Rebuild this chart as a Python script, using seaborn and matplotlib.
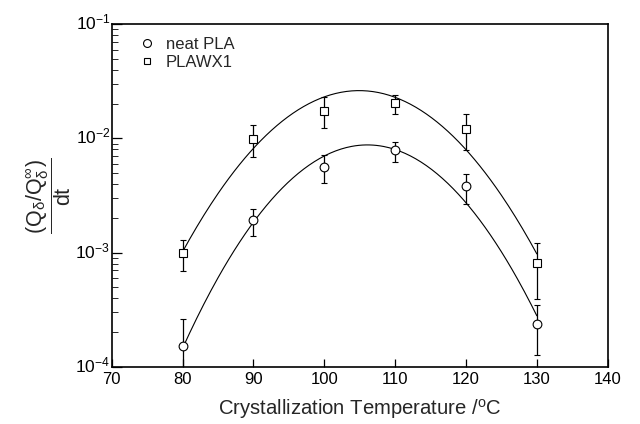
import numpy as np
import pandas as pd
import matplotlib
matplotlib.use("Agg")
import matplotlib.pyplot as plt
import matplotlib.transforms as mtransforms
from matplotlib.lines import Line2D
import seaborn as sns
from matplotlib.ticker import LogLocator, LogFormatterSciNotation, NullFormatter

# ---- data ----
temps = [80, 90, 100, 110, 120, 130]
neat_vals = [1.52e-4, 1.91e-3, 5.6e-3, 7.83e-3, 3.80e-3, 2.36e-4]
neat_hi = [2.61e-4, 2.42e-3, 7.08e-3, 9.26e-3, 4.89e-3, 3.44e-4]
neat_lo = [0.45e-4, 1.39e-3, 4.05e-3, 6.22e-3, 2.67e-3, 1.26e-4]
wx_vals = [9.95e-4, 9.9e-3, 1.75e-2, 2.02e-2, 1.20e-2, 8.13e-4]
wx_hi = [1.29e-3, 1.30e-2, 2.28e-2, 2.40e-2, 1.62e-2, 1.22e-3]
wx_lo = [6.92e-4, 6.84e-3, 1.24e-2, 1.62e-2, 7.83e-3, 3.94e-4]
series_names = ["neat PLA", "PLAWX1"]
x_ticks = [70, 80, 90, 100, 110, 120, 130, 140]

sns.set_theme(style="ticks")
plt.rcParams["font.family"] = ["Liberation Sans", "DejaVu Sans"]
plt.rcParams["mathtext.fontset"] = "custom"
plt.rcParams["mathtext.rm"] = "Liberation Sans"
plt.rcParams["mathtext.it"] = "Liberation Sans"
plt.rcParams["mathtext.sf"] = "Liberation Sans"
plt.rcParams["mathtext.bf"] = "Liberation Sans:bold"

fig = plt.figure(figsize=(6.4, 4.24), dpi=100)
ax = fig.add_axes([0.1745, 0.135, 0.775, 0.808])

# quadratic fits in log space (regression of the data)
rows = []
tt = np.linspace(80, 130, 200)
for name, vals in zip(series_names, [neat_vals, wx_vals]):
    coef = np.polyfit(temps, np.log10(vals), 2)
    fit = 10 ** np.polyval(coef, tt)
    rows.append(pd.DataFrame({"T": tt, "rate": fit, "series": name}))
fit_df = pd.concat(rows)
sns.lineplot(data=fit_df, x="T", y="rate", units="series", estimator=None,
             color="black", lw=0.8, ax=ax, legend=False)

handles = []
for name, vals, lo, hi, mk, ms in [
    ("neat PLA", neat_vals, neat_lo, neat_hi, "o", 6.3),
    ("PLAWX1", wx_vals, wx_lo, wx_hi, "s", 5.3),
]:
    v = np.array(vals)
    yerr = np.vstack([v - np.array(lo), np.array(hi) - v])
    ax.errorbar(temps, v, yerr=yerr, fmt=mk, ms=ms, mfc="white", mec="black",
                mew=0.8, ecolor="black", elinewidth=0.9, capsize=2.5,
                capthick=0.9, zorder=3)
    handles.append(Line2D([], [], ls="none", marker=mk, ms=ms - 0.6, mfc="white",
                          mec="black", mew=0.8, label=name))

ax.set_yscale("log")
ax.set_ylim(1e-4, 1e-1)
ax.set_xlim(70, 140)
ax.set_xticks(x_ticks)
ax.yaxis.set_major_locator(LogLocator(base=10, numticks=10))
ax.yaxis.set_minor_locator(LogLocator(base=10, subs=np.arange(2, 10), numticks=10))
ax.yaxis.set_major_formatter(LogFormatterSciNotation())
ax.yaxis.set_minor_formatter(NullFormatter())

ax.tick_params(axis="both", which="major", direction="in", length=7, width=0.9,
               labelsize=12.5, colors="black", top=False, right=False)
ax.tick_params(axis="y", which="minor", direction="in", length=4.5, width=0.7,
               left=True, right=False)
ax.tick_params(axis="x", which="minor", bottom=False, top=False)
ax.tick_params(axis="x", which="major", length=6, pad=4, labelsize=12)
ax.tick_params(axis="y", pad=1)

# shift y tick labels up so the "10" is centred on the tick
offset = mtransforms.ScaledTranslation(0, 3 / 100, fig.dpi_scale_trans)
for lab in ax.yaxis.get_majorticklabels():
    lab.set_transform(lab.get_transform() + offset)

for s in ax.spines.values():
    s.set_visible(True)
    s.set_linewidth(1.2)
    s.set_color("black")

ax.set_xlabel(r"Crystallization Temperature /$^{\mathrm{o}}$C", fontsize=14.6, labelpad=7)
ax.set_ylabel(r"$\dfrac{(\mathrm{Q}_{\delta}/\mathrm{Q}_{\delta}^{\infty})}{\mathrm{dt}}$",
              fontsize=15.5, labelpad=2)

ax.legend(handles=handles, loc="upper left", frameon=False, fontsize=12,
          handletextpad=0.62, borderaxespad=0, borderpad=0, labelspacing=0.15,
          handlelength=1.0, bbox_to_anchor=(0.0543, 0.962))

fig.savefig("out.png", dpi=100)
